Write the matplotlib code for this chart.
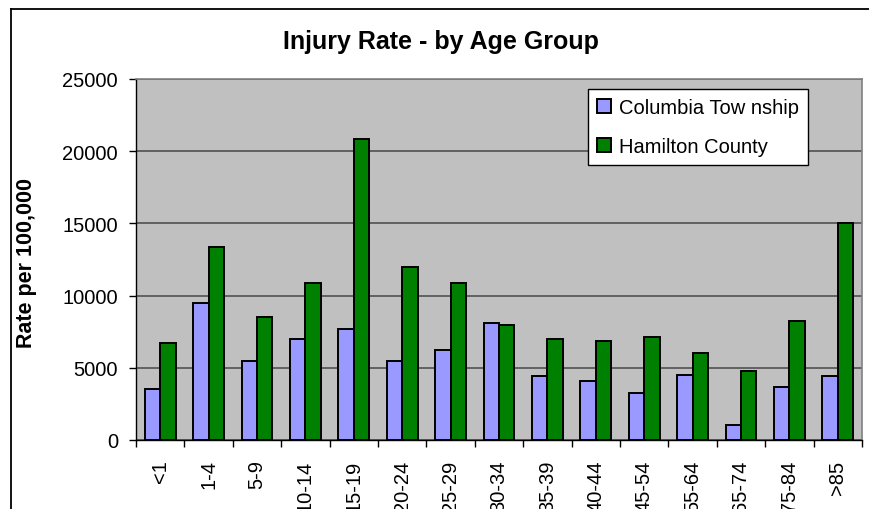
import matplotlib
matplotlib.use("Agg")
import matplotlib.pyplot as plt
from matplotlib.lines import Line2D
import numpy as np

plt.rcParams['font.family'] = ['Liberation Sans', 'DejaVu Sans']

categories = ["<1", "1-4", "5-9", "10-14", "15-19", "20-24", "25-29", "30-34",
              "35-39", "40-44", "45-54", "55-64", "65-74", "75-84", ">85"]
columbia = [3550, 9500, 5500, 7000, 7700, 5500, 6200, 8100,
            4400, 4100, 3250, 4500, 1050, 3700, 4400]
hamilton = [6700, 13350, 8500, 10900, 20850, 12000, 10900, 7950,
            7000, 6850, 7150, 6050, 4800, 8250, 15000]
series_names = ["Columbia Tow nship", "Hamilton County"]
yticks = [0, 5000, 10000, 15000, 20000, 25000]

W, H = 870, 510
fig = plt.figure(figsize=(W / 100, H / 100), dpi=100)
fig.patch.set_facecolor("white")

# outer chart border (extends beyond the visible image)
fig.add_artist(Line2D([11 / W, 11 / W], [-0.1, 1 - 10 / H], transform=fig.transFigure,
                      color="black", lw=1.3))
fig.add_artist(Line2D([11 / W, 1.1], [1 - 10 / H, 1 - 10 / H], transform=fig.transFigure,
                      color="black", lw=1.3))

left, top, right, bottom = 136, 80, 862, 441
ax = fig.add_axes([left / W, 1 - bottom / H, (right - left) / W, (bottom - top) / H])
ax.set_facecolor("#C0C0C0")

x = np.arange(len(categories))
bw = 0.32
ax.bar(x - bw / 2, columbia, width=bw, color="#9999FF", edgecolor="black",
       linewidth=1.4, label=series_names[0], zorder=3)
ax.bar(x + bw / 2, hamilton, width=bw, color="#008000", edgecolor="black",
       linewidth=1.4, label=series_names[1], zorder=3)

ax.set_xlim(-0.5, len(categories) - 0.5)
ax.set_ylim(0, 25000)
ax.set_yticks(yticks)
ax.set_yticklabels([str(v) for v in yticks], fontsize=14.5)
ax.yaxis.grid(True, color="#5a5a5a", linewidth=1.3, zorder=0)
ax.set_axisbelow(True)

ax.set_xticks(x)
ax.set_xticklabels(categories, rotation=90, fontsize=14.5, va="top", ha="center")
ax.set_xticks(np.arange(-0.5, len(categories), 1.0), minor=True)
ax.tick_params(axis="x", which="major", length=0, pad=14)
ax.tick_params(axis="x", which="minor", length=5, width=1, direction="out", color="black")
ax.tick_params(axis="y", length=5, width=1, direction="out", pad=8, color="black")

for s in ["top", "right"]:
    ax.spines[s].set_color("#808080")
    ax.spines[s].set_linewidth(1.2)
for s in ["left", "bottom"]:
    ax.spines[s].set_color("black")
    ax.spines[s].set_linewidth(1.0)

ax.set_ylabel("Rate per 100,000", fontsize=15.5, fontweight="bold")
ax.yaxis.set_label_coords((37 - left) / (right - left), (bottom - 263) / (bottom - top))

fig.text(441 / W, 1 - 42 / H, "Injury Rate - by Age Group", fontsize=18,
         fontweight="bold", ha="center", va="center")

leg = ax.legend(loc="upper left", bbox_to_anchor=(588 / W, 1 - 90 / H),
                bbox_transform=fig.transFigure, fontsize=14.5, frameon=True,
                fancybox=False, edgecolor="black", framealpha=1,
                handlelength=0.7, handleheight=0.7, handletextpad=0.4,
                borderpad=0.45, labelspacing=1.0, borderaxespad=0)
leg.get_frame().set_linewidth(1.0)

fig.savefig("out.png", dpi=100)
